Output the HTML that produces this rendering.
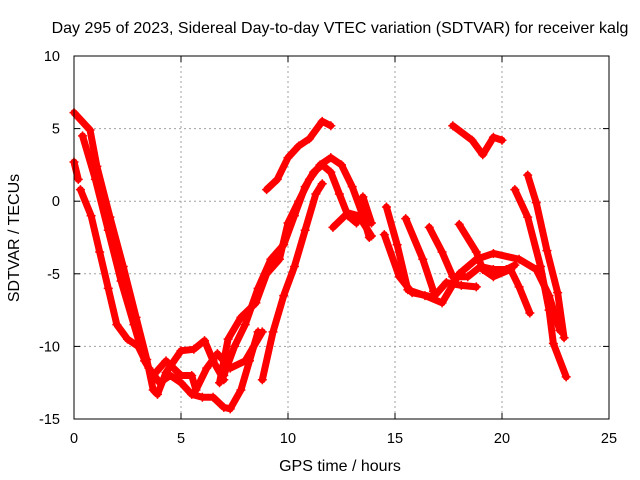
<!DOCTYPE html>
<html><head><meta charset="utf-8"><style>
html,body{margin:0;padding:0;background:#fff;}
svg{display:block;font-family:"Liberation Sans",sans-serif;}
</style></head><body>
<svg id="chart" width="640" height="480">
<text x="340" y="33" text-anchor="middle" font-size="16">Day 295 of 2023, Sidereal Day-to-day VTEC variation (SDTVAR) for receiver kalg</text>
<text x="340" y="471" text-anchor="middle" font-size="16">GPS time / hours</text>
<text transform="translate(19,238) rotate(-90)" text-anchor="middle" font-size="16">SDTVAR / TECUs</text>
<g id="grid"></g>
<g id="ticks"></g>
<g id="series"></g>
<rect x="74" y="56" width="535" height="363" fill="none" stroke="#000" stroke-width="1"/>
</svg>
<script>
const xTicks=[0,5,10,15,20,25];
const yTicks=[-15,-10,-5,0,5,10];
const t1=[[0,6.1],[0.75,4.9],[1.07,2.4],[1.68,-1.1],[2.3,-4.5],[2.9,-8],[3.4,-10.9],[3.7,-13],[3.9,-13.3],[4.3,-11.8],[5,-10.3],[5.6,-10.2],[6.1,-9.6],[6.5,-11],[7,-12.3]];
const t2=[[0,2.7],[0.2,1.5]];
const t3=[[0.3,0.8],[0.8,-1],[1.2,-3.5],[1.6,-6],[2,-8.5],[2.5,-9.5],[3,-10],[3.5,-11.5],[4,-12.5],[4.5,-12],[5,-12.5],[5.5,-13.3],[6,-13.5],[6.5,-13.5],[7,-14.2],[7.3,-14.3],[7.8,-13],[8.2,-11],[8.6,-9]];
const t4=[[0.4,4.5],[1,1.5],[1.6,-2],[2.2,-5.5],[2.8,-8.5],[3.3,-11],[3.7,-12],[4.3,-11],[5,-12],[5.5,-12],[5.7,-13],[6.2,-11.5],[6.7,-10.5],[7.3,-11.5],[8,-11],[8.8,-9]];
const t5=[[7,-12],[7.5,-10],[8,-8.5],[8.6,-6],[9.2,-4],[9.8,-3],[10.3,-1],[10.8,1],[11.2,2],[11.6,2.5],[12,2],[12.4,0.5],[12.8,-1],[13.2,-1.5]];
const t6=[[6.8,-12.5],[7.2,-9.5],[7.8,-8],[8.5,-7],[9,-5],[9.6,-4],[10,-1.5],[10.5,0],[11,1.5],[11.5,2.5],[12,3],[12.5,2.5],[13,1],[13.5,-1],[13.8,-2.5]];
const t7=[[8.8,-12.3],[9.3,-9],[9.8,-6.5],[10.3,-4.5],[10.8,-2],[11.3,0.5],[11.6,1.2]];
const t8=[[9,0.8],[9.5,1.5],[10,3],[10.5,3.8],[11,4.3],[11.6,5.5],[12,5.2]];
const t9=[[14.6,-0.4],[15.1,-3],[15.6,-6.1],[16.4,-6.5],[17.2,-7],[18,-5],[18.8,-4],[19.6,-3.6],[20.8,-4],[21.6,-4.7],[22.2,-6.5],[22.7,-8.9]];
const t10=[[14.5,-2.3],[15.2,-5.2],[15.8,-6.3],[16.8,-6.6],[17.4,-5.6],[18.1,-5.8],[18.8,-5.9]];
const t11=[[15.5,-1.2],[16.3,-4],[16.8,-6.2]];
const t12=[[16.6,-1.8],[17.2,-3.5],[17.7,-5.2],[18.4,-5.2],[19,-4.5],[19.6,-4.7],[20.2,-4.7],[20.6,-4.4]];
const t13=[[18,-1.6],[18.8,-3.5],[19.1,-4.7],[19.6,-5.2],[20.4,-4.7],[20.8,-5.9],[21.3,-7.7]];
const t14=[[17.7,5.2],[18.6,4.2],[19.1,3.2],[19.6,4.4],[20,4.2]];
const t15=[[21.2,1.8],[21.6,-0.1],[22.1,-3.4],[22.6,-6.3],[22.9,-9.4]];
const t16=[[20.6,0.8],[21.2,-1.1],[21.8,-4.5],[22.2,-7.5],[22.4,-9.8],[23,-12.1]];
const t17=[[12.1,-1.8],[12.8,-0.8],[13.3,-1],[13.9,-2.4]];
const t18=[[13.5,0.3],[13.9,-1.5]];
const traces=[t1,t2,t3,t4,t5,t6,t7,t8,t9,t10,t11,t12,t13,t14,t15,t16,t17,t18];

const X0=74,X1=609,Y0=419,Y1=56;
const xs=h=>X0+(h-0)/(25-0)*(X1-X0);
const ys=v=>Y0-(v+15)/(25)*(Y0-Y1);
const NS='http://www.w3.org/2000/svg';
const grid=document.getElementById('grid'),ticks=document.getElementById('ticks'),ser=document.getElementById('series');
function mk(tag,attrs,parent){const e=document.createElementNS(NS,tag);for(const k in attrs)e.setAttribute(k,attrs[k]);parent.appendChild(e);return e;}
xTicks.forEach(t=>{
  const x=xs(t);
  if(t>0&&t<25){const g=mk('line',{x1:x,x2:x,y1:Y1,y2:Y0,stroke:'#a0a0a0','stroke-dasharray':'2,3'},grid);
  
  }
  mk('line',{x1:x,x2:x,y1:Y0,y2:Y0-6,stroke:'#000'},ticks);
  mk('line',{x1:x,x2:x,y1:Y1,y2:Y1+6,stroke:'#000'},ticks);
  const l=mk('text',{x:x,y:Y0+24,'text-anchor':'middle','font-size':'14.5'},ticks);l.textContent=t;
  
  
});
yTicks.forEach(t=>{
  const y=ys(t);
  if(t>-15&&t<10){const g=mk('line',{x1:X0,x2:X1,y1:y,y2:y,stroke:'#a0a0a0','stroke-dasharray':'2,3'},grid);
  
  }
  mk('line',{x1:X0,x2:X0+6,y1:y,y2:y,stroke:'#000'},ticks);
  mk('line',{x1:X1,x2:X1-6,y1:y,y2:y,stroke:'#000'},ticks);
  const l=mk('text',{x:X0-14,y:y+5,'text-anchor':'end','font-size':'14.5'},ticks);l.textContent=t;
  
  
});
traces.forEach((tr,i)=>{
  const p=mk('polyline',{points:tr.map(d=>xs(d[0])+','+ys(d[1])).join(' '),fill:'none',stroke:'#ff0000','stroke-width':7,'stroke-linejoin':'round','stroke-linecap':'round'},ser);
  
  
  tr.forEach(d=>{
    const cx=xs(d[0]),cy=ys(d[1]);
    const m=mk('path',{d:`M${cx-4.5},${cy}H${cx+4.5}M${cx},${cy-4.5}V${cy+4.5}`,stroke:'#ff0000','stroke-width':1.5},ser);
    
    
  });
});
</script>
</body></html>
